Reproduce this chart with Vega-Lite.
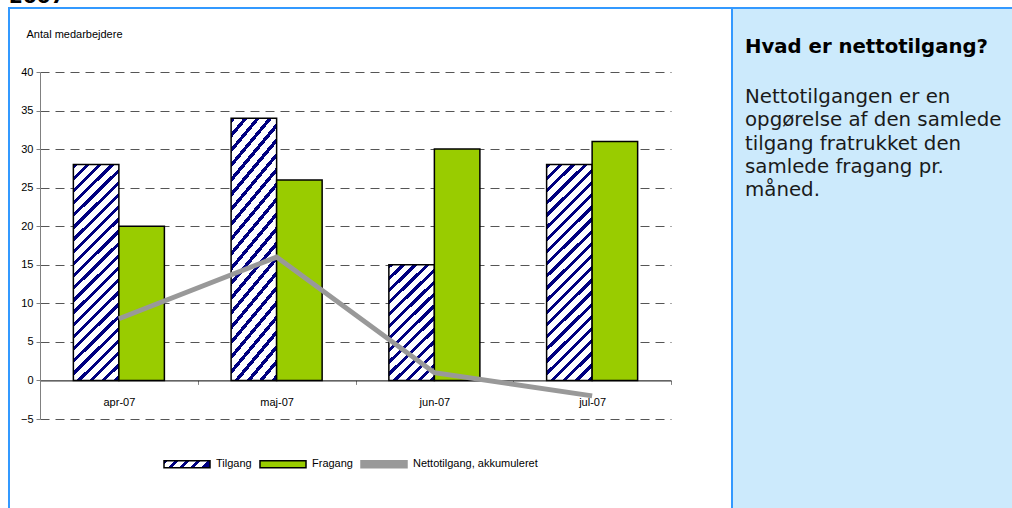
{
  "$schema": "https://vega.github.io/schema/vega-lite/v6.json",
  "padding": {"left": 8, "top": -13, "right": 0, "bottom": 0},
  "spacing": 0,
  "bounds": "flush",
  "background": "white",
  "title": {"text": "2007", "anchor": "start", "frame": "group", "offset": -16, "baseline": "alphabetic", "font": "DejaVu Sans", "fontSize": 20, "fontWeight": "bold", "color": "#000000"},
  "config": {"font": "Liberation Sans"},
  "datasets": {
    "chart": [
      {"month": "apr-07", "series": "Tilgang", "value": 28},
      {"month": "apr-07", "series": "Fragang", "value": 20},
      {"month": "apr-07", "series": "Nettotilgang, akkumuleret", "value": 8},
      {"month": "maj-07", "series": "Tilgang", "value": 34},
      {"month": "maj-07", "series": "Fragang", "value": 26},
      {"month": "maj-07", "series": "Nettotilgang, akkumuleret", "value": 16},
      {"month": "jun-07", "series": "Tilgang", "value": 15},
      {"month": "jun-07", "series": "Fragang", "value": 30},
      {"month": "jun-07", "series": "Nettotilgang, akkumuleret", "value": 1},
      {"month": "jul-07", "series": "Tilgang", "value": 28},
      {"month": "jul-07", "series": "Fragang", "value": 31},
      {"month": "jul-07", "series": "Nettotilgang, akkumuleret", "value": -2}
    ],
    "info": [
      {"line": 0, "text": "Hvad er nettotilgang?"},
      {"line": 1, "text": "Nettotilgangen er en"},
      {"line": 2, "text": "opgørelse af den samlede"},
      {"line": 3, "text": "tilgang fratrukket den"},
      {"line": 4, "text": "samlede fragang pr."},
      {"line": 5, "text": "måned."}
    ]
  },
  "hconcat": [
    {
      "width": 723,
      "height": 505,
      "view": {"stroke": "#3399FF", "strokeWidth": 2, "fill": "white"},
      "data": {"name": "chart"},
      "layer": [
        {
          "transform": [{"filter": "datum.series !== 'Nettotilgang, akkumuleret'"}],
          "mark": {"type": "bar", "stroke": "black", "strokeWidth": 1.5},
          "encoding": {
            "x": {
              "field": "month", "type": "nominal",
              "sort": ["apr-07", "maj-07", "jun-07", "jul-07"],
              "scale": {"range": [31, 662], "paddingInner": 0, "paddingOuter": 0},
              "axis": {
                "title": null, "orient": "bottom", "offset": -132.6,
                "tickBand": "extent", "ticks": true, "tickSize": 4, "tickColor": "#808080",
                "domainColor": "black", "domainWidth": 1,
                "labelFont": "Liberation Sans", "labelFontSize": 11, "labelColor": "black",
                "labelPadding": 12, "labelAngle": 0, "grid": false
              }
            },
            "xOffset": {"field": "series", "sort": ["Tilgang", "Fragang"], "scale": {"paddingInner": 0, "paddingOuter": 0.733}},
            "y": {
              "field": "value", "type": "quantitative",
              "scale": {"domain": [-5, 40], "range": [411, 64], "nice": false, "zero": false},
              "axis": {
                "title": "Antal medarbejdere", "titleAngle": 0, "titleAlign": "left", "titleBaseline": "alphabetic",
                "titleX": -14, "titleY": 29, "titleFont": "Liberation Sans", "titleFontSize": 11,
                "titleFontWeight": "normal", "titleColor": "black",
                "offset": -31, "values": [-5, 0, 5, 10, 15, 20, 25, 30, 35, 40],
                "tickSize": 4, "tickColor": "#808080", "domainColor": "#808080",
                "labelFont": "Liberation Sans", "labelFontSize": 11, "labelPadding": 3, "labelColor": "black",
                "grid": true, "gridDash": [9, 6], "gridColor": "#555555",
                "gridOpacity": {"condition": {"test": "datum.value === 0", "value": 0}, "value": 1}
              }
            },
            "y2": {"datum": 0},
            "fill": {
              "field": "series", "type": "nominal",
              "scale": {"domain": ["Tilgang", "Fragang"], "range": ["#000080", "#99CC00"]},
              "legend": null,
              "condition": [
                {"test": "datum.series === 'Tilgang' && datum.month === 'jun-07'", "value": {"gradient": "linear", "x1": 0, "y1": 0, "x2": 0.5, "y2": 1.3, "stops": [
                  {"offset": 0, "color": "#000080"}, {"offset": 0.025, "color": "#000080"}, {"offset": 0.025, "color": "#ffffff"}, {"offset": 0.069, "color": "#ffffff"},
                  {"offset": 0.069, "color": "#000080"}, {"offset": 0.094, "color": "#000080"}, {"offset": 0.094, "color": "#ffffff"}, {"offset": 0.138, "color": "#ffffff"},
                  {"offset": 0.138, "color": "#000080"}, {"offset": 0.163, "color": "#000080"}, {"offset": 0.163, "color": "#ffffff"}, {"offset": 0.207, "color": "#ffffff"},
                  {"offset": 0.207, "color": "#000080"}, {"offset": 0.232, "color": "#000080"}, {"offset": 0.232, "color": "#ffffff"}, {"offset": 0.276, "color": "#ffffff"},
                  {"offset": 0.276, "color": "#000080"}, {"offset": 0.301, "color": "#000080"}, {"offset": 0.301, "color": "#ffffff"}, {"offset": 0.345, "color": "#ffffff"},
                  {"offset": 0.345, "color": "#000080"}, {"offset": 0.37, "color": "#000080"}, {"offset": 0.37, "color": "#ffffff"}, {"offset": 0.414, "color": "#ffffff"},
                  {"offset": 0.414, "color": "#000080"}, {"offset": 0.439, "color": "#000080"}, {"offset": 0.439, "color": "#ffffff"}, {"offset": 0.483, "color": "#ffffff"},
                  {"offset": 0.483, "color": "#000080"}, {"offset": 0.508, "color": "#000080"}, {"offset": 0.508, "color": "#ffffff"}, {"offset": 0.552, "color": "#ffffff"},
                  {"offset": 0.552, "color": "#000080"}, {"offset": 0.577, "color": "#000080"}, {"offset": 0.577, "color": "#ffffff"}, {"offset": 0.621, "color": "#ffffff"},
                  {"offset": 0.621, "color": "#000080"}, {"offset": 0.646, "color": "#000080"}, {"offset": 0.646, "color": "#ffffff"}, {"offset": 0.69, "color": "#ffffff"},
                  {"offset": 0.69, "color": "#000080"}, {"offset": 0.715, "color": "#000080"}, {"offset": 0.715, "color": "#ffffff"}, {"offset": 0.759, "color": "#ffffff"},
                  {"offset": 0.759, "color": "#000080"}, {"offset": 0.784, "color": "#000080"}, {"offset": 0.784, "color": "#ffffff"}, {"offset": 0.828, "color": "#ffffff"},
                  {"offset": 0.828, "color": "#000080"}, {"offset": 0.853, "color": "#000080"}, {"offset": 0.853, "color": "#ffffff"}, {"offset": 0.897, "color": "#ffffff"},
                  {"offset": 0.897, "color": "#000080"}, {"offset": 0.922, "color": "#000080"}, {"offset": 0.922, "color": "#ffffff"}, {"offset": 0.966, "color": "#ffffff"},
                  {"offset": 0.966, "color": "#000080"}, {"offset": 0.991, "color": "#000080"}, {"offset": 0.991, "color": "#ffffff"}, {"offset": 1, "color": "#ffffff"}
                ]}},
                {"test": "datum.series === 'Tilgang'", "value": {"gradient": "linear", "x1": 0, "y1": 0, "x2": 0.25, "y2": 1.2, "stops": [
                  {"offset": 0, "color": "#000080"}, {"offset": 0.016, "color": "#000080"}, {"offset": 0.016, "color": "#ffffff"}, {"offset": 0.045, "color": "#ffffff"},
                  {"offset": 0.045, "color": "#000080"}, {"offset": 0.061, "color": "#000080"}, {"offset": 0.061, "color": "#ffffff"}, {"offset": 0.09, "color": "#ffffff"},
                  {"offset": 0.09, "color": "#000080"}, {"offset": 0.106, "color": "#000080"}, {"offset": 0.106, "color": "#ffffff"}, {"offset": 0.135, "color": "#ffffff"},
                  {"offset": 0.135, "color": "#000080"}, {"offset": 0.151, "color": "#000080"}, {"offset": 0.151, "color": "#ffffff"}, {"offset": 0.18, "color": "#ffffff"},
                  {"offset": 0.18, "color": "#000080"}, {"offset": 0.196, "color": "#000080"}, {"offset": 0.196, "color": "#ffffff"}, {"offset": 0.225, "color": "#ffffff"},
                  {"offset": 0.225, "color": "#000080"}, {"offset": 0.241, "color": "#000080"}, {"offset": 0.241, "color": "#ffffff"}, {"offset": 0.27, "color": "#ffffff"},
                  {"offset": 0.27, "color": "#000080"}, {"offset": 0.286, "color": "#000080"}, {"offset": 0.286, "color": "#ffffff"}, {"offset": 0.315, "color": "#ffffff"},
                  {"offset": 0.315, "color": "#000080"}, {"offset": 0.331, "color": "#000080"}, {"offset": 0.331, "color": "#ffffff"}, {"offset": 0.36, "color": "#ffffff"},
                  {"offset": 0.36, "color": "#000080"}, {"offset": 0.376, "color": "#000080"}, {"offset": 0.376, "color": "#ffffff"}, {"offset": 0.405, "color": "#ffffff"},
                  {"offset": 0.405, "color": "#000080"}, {"offset": 0.421, "color": "#000080"}, {"offset": 0.421, "color": "#ffffff"}, {"offset": 0.45, "color": "#ffffff"},
                  {"offset": 0.45, "color": "#000080"}, {"offset": 0.466, "color": "#000080"}, {"offset": 0.466, "color": "#ffffff"}, {"offset": 0.495, "color": "#ffffff"},
                  {"offset": 0.495, "color": "#000080"}, {"offset": 0.511, "color": "#000080"}, {"offset": 0.511, "color": "#ffffff"}, {"offset": 0.54, "color": "#ffffff"},
                  {"offset": 0.54, "color": "#000080"}, {"offset": 0.556, "color": "#000080"}, {"offset": 0.556, "color": "#ffffff"}, {"offset": 0.585, "color": "#ffffff"},
                  {"offset": 0.585, "color": "#000080"}, {"offset": 0.601, "color": "#000080"}, {"offset": 0.601, "color": "#ffffff"}, {"offset": 0.63, "color": "#ffffff"},
                  {"offset": 0.63, "color": "#000080"}, {"offset": 0.646, "color": "#000080"}, {"offset": 0.646, "color": "#ffffff"}, {"offset": 0.675, "color": "#ffffff"},
                  {"offset": 0.675, "color": "#000080"}, {"offset": 0.691, "color": "#000080"}, {"offset": 0.691, "color": "#ffffff"}, {"offset": 0.72, "color": "#ffffff"},
                  {"offset": 0.72, "color": "#000080"}, {"offset": 0.736, "color": "#000080"}, {"offset": 0.736, "color": "#ffffff"}, {"offset": 0.765, "color": "#ffffff"},
                  {"offset": 0.765, "color": "#000080"}, {"offset": 0.781, "color": "#000080"}, {"offset": 0.781, "color": "#ffffff"}, {"offset": 0.81, "color": "#ffffff"},
                  {"offset": 0.81, "color": "#000080"}, {"offset": 0.826, "color": "#000080"}, {"offset": 0.826, "color": "#ffffff"}, {"offset": 0.855, "color": "#ffffff"},
                  {"offset": 0.855, "color": "#000080"}, {"offset": 0.871, "color": "#000080"}, {"offset": 0.871, "color": "#ffffff"}, {"offset": 0.9, "color": "#ffffff"},
                  {"offset": 0.9, "color": "#000080"}, {"offset": 0.916, "color": "#000080"}, {"offset": 0.916, "color": "#ffffff"}, {"offset": 0.945, "color": "#ffffff"},
                  {"offset": 0.945, "color": "#000080"}, {"offset": 0.961, "color": "#000080"}, {"offset": 0.961, "color": "#ffffff"}, {"offset": 1, "color": "#ffffff"}
                ]}}
              ]
            }
          }
        },
        {
          "transform": [{"filter": "datum.series === 'Nettotilgang, akkumuleret'"}],
          "mark": {"type": "line", "strokeWidth": 5},
          "encoding": {
            "x": {"field": "month", "type": "nominal", "sort": ["apr-07", "maj-07", "jun-07", "jul-07"]},
            "y": {"field": "value", "type": "quantitative"},
            "color": {
              "field": "series", "type": "nominal",
              "scale": {"domain": ["Tilgang", "Fragang", "Nettotilgang, akkumuleret"], "range": ["#000000", "#000000", "#999999"]},
              "legend": {
                "title": null, "orient": "none", "direction": "horizontal",
                "legendX": 154, "legendY": 432,
                "symbolType": "M-1,-0.15H1V0.15H-1Z", "symbolSize": 2116,
                "labelFont": "Liberation Sans", "labelFontSize": 11, "labelColor": "black",
                "labelOffset": 5, "columnPadding": 5, "symbolStrokeWidth": 1.5,
                "encoding": {"symbols": {
                  "fill": {
                    "condition": [
                      {"test": "datum.value === 'Tilgang'", "value": {"gradient": "linear", "x1": 0, "y1": 0, "x2": 1, "y2": 0.15, "stops": [
                        {"offset": 0, "color": "#000080"}, {"offset": 0.085, "color": "#000080"}, {"offset": 0.085, "color": "#ffffff"}, {"offset": 0.23, "color": "#ffffff"},
                        {"offset": 0.23, "color": "#000080"}, {"offset": 0.315, "color": "#000080"}, {"offset": 0.315, "color": "#ffffff"}, {"offset": 0.46, "color": "#ffffff"},
                        {"offset": 0.46, "color": "#000080"}, {"offset": 0.545, "color": "#000080"}, {"offset": 0.545, "color": "#ffffff"}, {"offset": 0.69, "color": "#ffffff"},
                        {"offset": 0.69, "color": "#000080"}, {"offset": 0.775, "color": "#000080"}, {"offset": 0.775, "color": "#ffffff"}, {"offset": 0.92, "color": "#ffffff"},
                        {"offset": 0.92, "color": "#000080"}, {"offset": 1, "color": "#000080"}
                      ]}},
                      {"test": "datum.value === 'Fragang'", "value": "#99CC00"}
                    ],
                    "value": "#999999"
                  },
                  "opacity": {"value": 1},
                  "fillOpacity": {"value": 1}
                }}
              }
            }
          }
        }
      ]
    },
    {
      "width": 282,
      "height": 505,
      "view": {"stroke": "#3399FF", "strokeWidth": 2, "fill": "#CCEAFC"},
      "data": {"name": "info"},
      "encoding": {
        "x": {"datum": 0, "type": "quantitative", "scale": {"domain": [0, 1], "range": [13, 282]}, "axis": null},
        "y": {"field": "line", "type": "quantitative", "scale": {"domain": [1, 5], "range": [95, 188]}, "axis": null},
        "text": {"field": "text"}
      },
      "layer": [
        {
          "transform": [{"filter": "datum.line === 0"}],
          "mark": {"type": "text", "align": "left", "baseline": "alphabetic", "dy": -27, "font": "DejaVu Sans", "fontSize": 19.7, "fontWeight": "bold", "color": "#000000"}
        },
        {
          "transform": [{"filter": "datum.line > 0"}],
          "mark": {"type": "text", "align": "left", "baseline": "alphabetic", "font": "DejaVu Sans", "fontSize": 19.8, "color": "#1a1a1a"}
        }
      ]
    }
  ]
}
